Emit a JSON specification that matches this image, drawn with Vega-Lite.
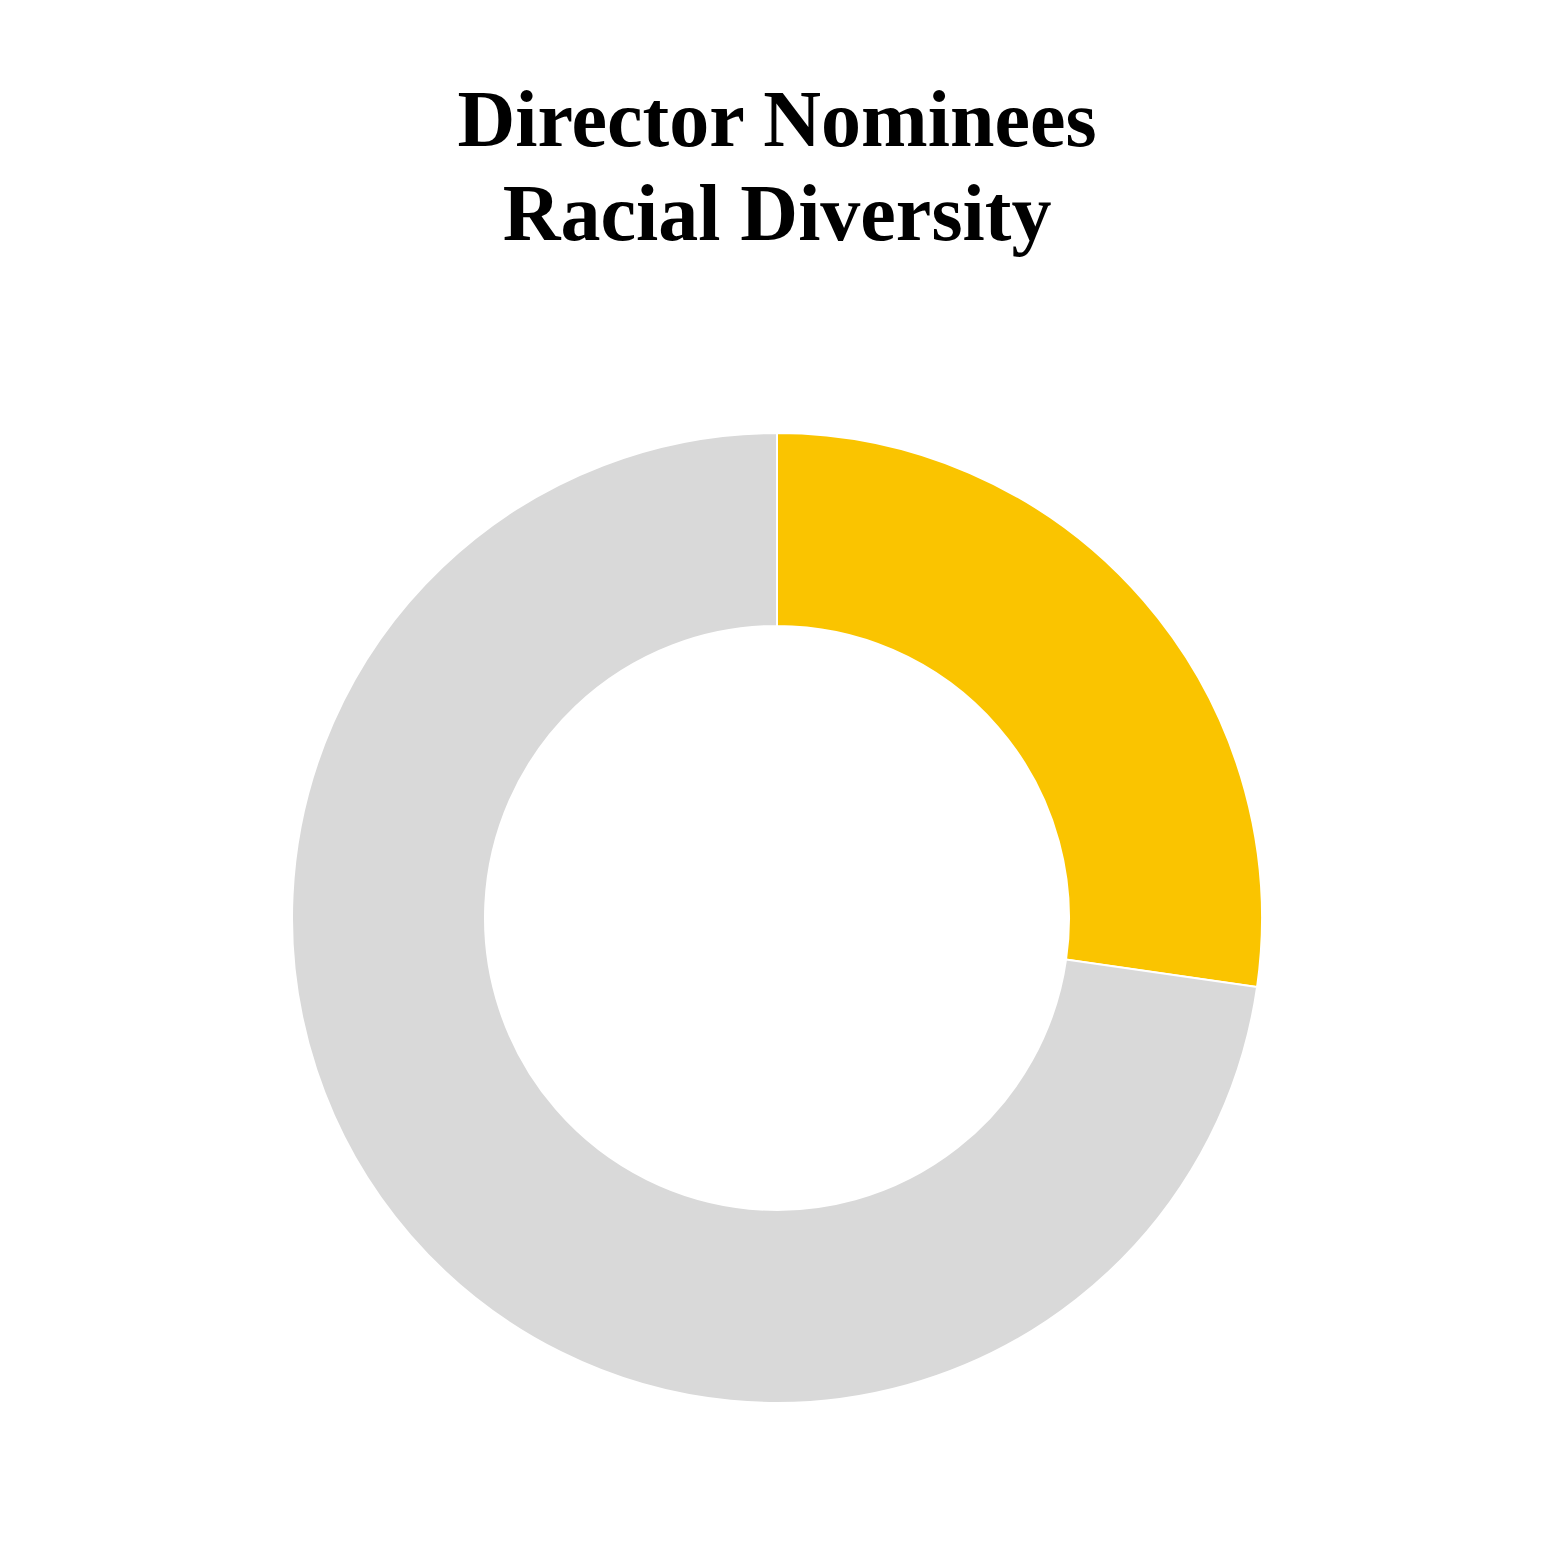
{
  "$schema": "https://vega.github.io/schema/vega-lite/v6.json",
  "description": "Donut chart of director nominees by racial diversity.",
  "width": 1554,
  "height": 1236,
  "autosize": "none",
  "padding": {"top": 300, "left": 0, "right": 0, "bottom": 0},
  "background": "white",
  "title": {
    "text": ["Director Nominees", "Racial Diversity"],
    "font": "Liberation Serif",
    "fontSize": 80,
    "fontWeight": "bold",
    "lineHeight": 94,
    "color": "black",
    "anchor": "middle",
    "frame": "group",
    "offset": 43
  },
  "data": {
    "values": [
      {"group": "Non-White", "count": 3, "rank": 1},
      {"group": "White", "count": 8, "rank": 2}
    ]
  },
  "mark": {
    "type": "arc",
    "outerRadius": 485,
    "innerRadius": 292,
    "stroke": "white",
    "strokeWidth": 2
  },
  "encoding": {
    "theta": {"field": "count", "type": "quantitative", "stack": true},
    "order": {"field": "rank", "type": "quantitative"},
    "color": {
      "field": "group",
      "type": "nominal",
      "scale": {"domain": ["Non-White", "White"], "range": ["#FAC400", "#D9D9D9"]},
      "legend": null
    },
    "tooltip": [
      {"field": "group", "type": "nominal", "title": "Group"},
      {"field": "count", "type": "quantitative", "title": "Nominees"}
    ]
  }
}
